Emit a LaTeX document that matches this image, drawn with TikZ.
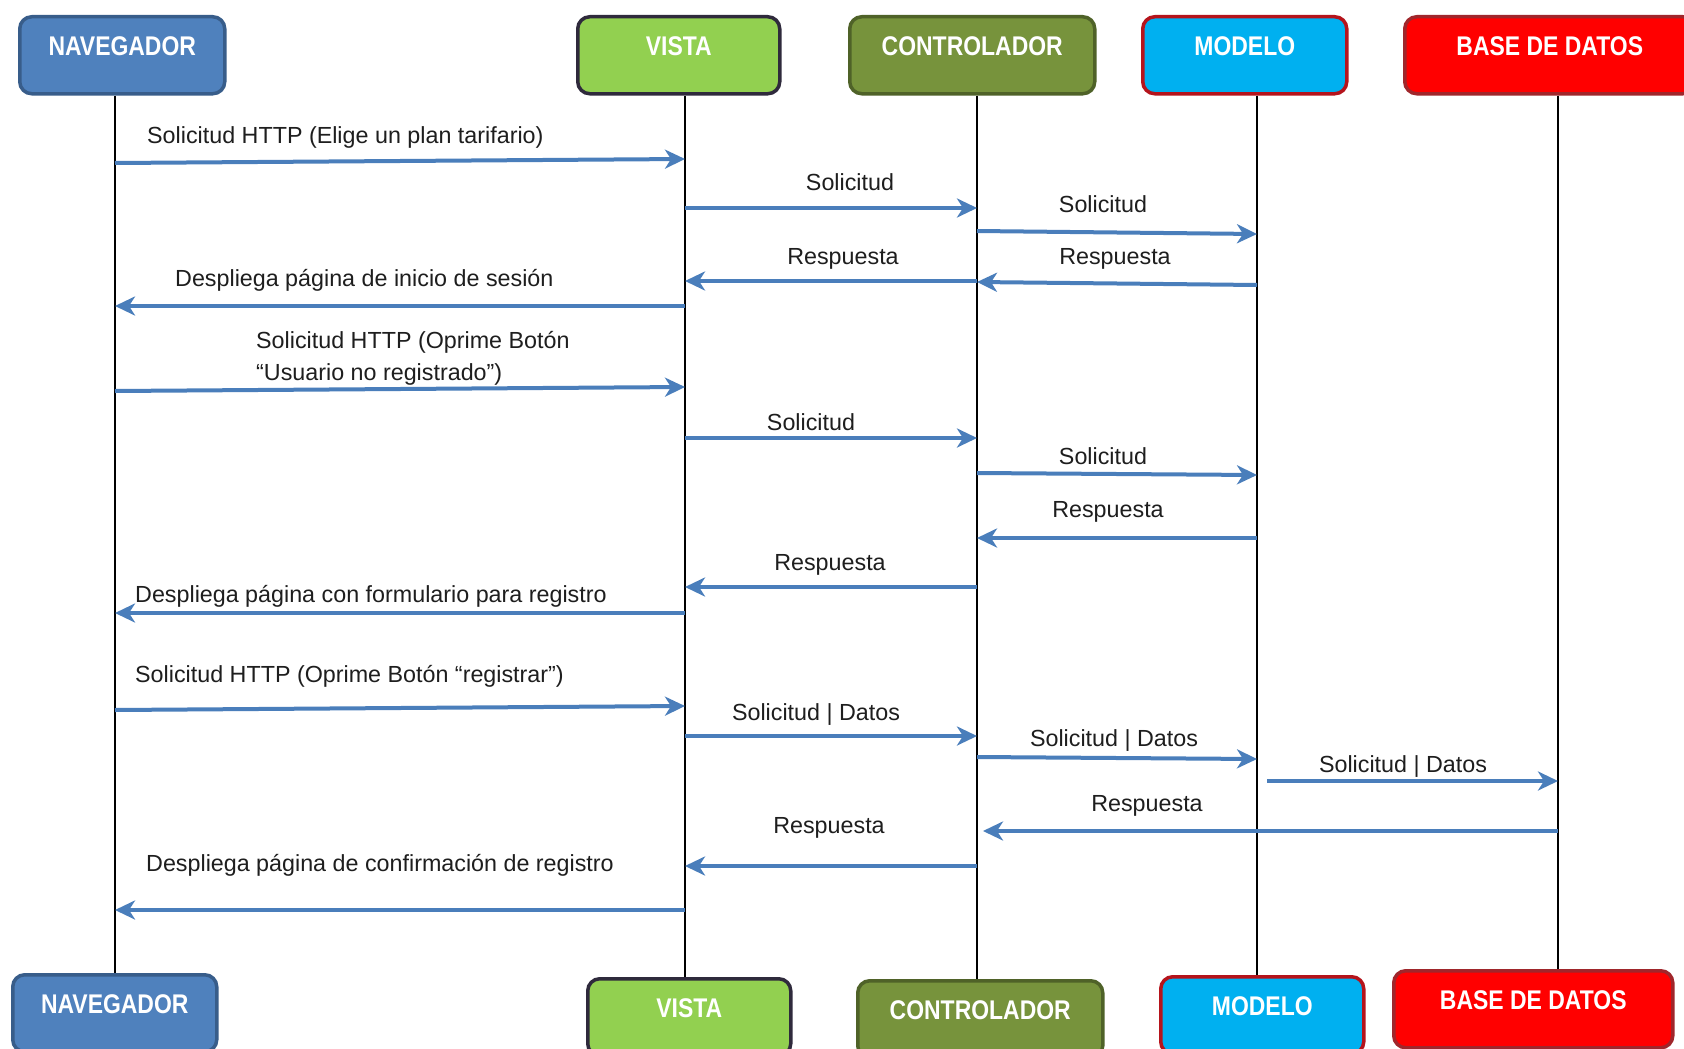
\documentclass[tikz,border=0pt]{standalone}
\usepackage{fontspec}
\setmainfont{Liberation Sans}
\newfontfamily\hdrfont[FakeStretch=0.85]{Liberation Sans}
\usetikzlibrary{arrows.meta}

\definecolor{navfill}{HTML}{4F81BD}
\definecolor{navline}{HTML}{385D8A}
\definecolor{visfill}{HTML}{92D050}
\definecolor{visline}{HTML}{2F2A3C}
\definecolor{ctrfill}{HTML}{77933C}
\definecolor{ctrline}{HTML}{4F6228}
\definecolor{modfill}{HTML}{00B0F0}
\definecolor{modline}{HTML}{B5141C}
\definecolor{bdfill}{HTML}{FF0000}
\definecolor{bdline}{HTML}{A0262B}
\definecolor{msgblue}{HTML}{4A7EBB}
\definecolor{lbltext}{HTML}{1E1E1E}

\begin{document}
\begin{tikzpicture}[x=1pt, y=-1pt,
  hdr/.style={draw, line width=3.5pt, rounded corners=12pt, anchor=north west,
    inner xsep=0pt, inner ysep=0pt, text height=39pt, text depth=38pt,
    font=\hdrfont\bfseries\fontsize{27}{27}\selectfont, text=white},
  life/.style={draw=black, line width=2.6pt},
  msg/.style={draw=msgblue, line width=4pt, -{Stealth[length=20pt,width=19pt,inset=6pt]}},
  lbl/.style={font=\fontsize{23.3}{31}\selectfont, text=lbltext, inner sep=0pt},
  lblw/.style={lbl, anchor=base west},
  lblc/.style={lbl, anchor=base}]

% page frame
\useasboundingbox (0,0) rectangle (1684,1049);
\clip (0,0) rectangle (1684,1049);
\fill[white] (0,0) rectangle (1684,1049);

% participant boxes, top row
\node[hdr, fill=navfill, draw=navline, minimum width=205pt] (navT) at (18,15) {NAVEGADOR};
\node[hdr, fill=visfill, draw=visline, minimum width=202pt] (visT) at (576,15) {VISTA};
\node[hdr, fill=ctrfill, draw=ctrline, minimum width=245pt] (ctrT) at (848,15) {CONTROLADOR};
\node[hdr, fill=modfill, draw=modline, minimum width=204pt] (modT) at (1141,15) {MODELO};
\node[hdr, fill=bdfill,  draw=bdline,  minimum width=290pt] (bdT)  at (1403,15) {BASE DE DATOS};

% participant boxes, bottom row
\node[hdr, fill=navfill, draw=navline, minimum width=204pt] (navB) at (11,973) {NAVEGADOR};
\node[hdr, fill=visfill, draw=visline, minimum width=203pt] (visB) at (586,977) {VISTA};
\node[hdr, fill=ctrfill, draw=ctrline, minimum width=245pt] (ctrB) at (856,979) {CONTROLADOR};
\node[hdr, fill=modfill, draw=modline, minimum width=203pt] (modB) at (1159,975) {MODELO};
\node[hdr, fill=bdfill,  draw=bdline,  minimum width=279pt] (bdB)  at (1392,969) {BASE DE DATOS};

% lifeline positions
\coordinate (navL) at (115,0);
\coordinate (visL) at (685,0);
\coordinate (ctrL) at (977,0);
\coordinate (modL) at (1257,0);
\coordinate (bdL)  at (1558,0);

% lifelines
\draw[life] (navL |- navT.south) -- (navL |- navB.north);
\draw[life] (visL |- visT.south) -- (visL |- visB.north);
\draw[life] (ctrL |- ctrT.south) -- (ctrL |- ctrB.north);
\draw[life] (modL |- modT.south) -- (modL |- modB.north);
\draw[life] (bdL  |- bdT.south)  -- (bdL  |- bdB.north);

% first exchange: choosing a plan
\draw[msg] (navL |- 0,163) -- (visL |- 0,159);
\node[lblw] (m1) at (147,143) {Solicitud HTTP (Elige un plan tarifario)};
\draw[msg] (visL |- 0,208) -- (ctrL |- 0,208);
\node[lblc] (m2) at (850,190) {Solicitud};
\draw[msg] (ctrL |- 0,231) -- (modL |- 0,234);
\node[lblc] (m3) at (1103,212) {Solicitud};
\draw[msg] (modL |- 0,285) -- (ctrL |- 0,282);
\node[lblc] (m4) at (1115,264) {Respuesta};
\draw[msg] (ctrL |- 0,281) -- (visL |- 0,281);
\node[lblc] (m5) at (843,264) {Respuesta};
\draw[msg] (visL |- 0,306) -- (navL |- 0,306);
\node[lblw] (m6) at (175,286) {Despliega página de inicio de sesión};

% second exchange: unregistered user
\draw[msg] (navL |- 0,391) -- (visL |- 0,387);
\node[lblw] (m7a) at (256,348) {Solicitud HTTP (Oprime Botón};
\node[lblw] (m7b) at (256,380) {“Usuario no registrado”)};
\draw[msg] (visL |- 0,438) -- (ctrL |- 0,438);
\node[lblc] (m8) at (811,430) {Solicitud};
\draw[msg] (ctrL |- 0,473) -- (modL |- 0,475);
\node[lblc] (m9) at (1103,464) {Solicitud};
\draw[msg] (modL |- 0,538) -- (ctrL |- 0,538);
\node[lblc] (m10) at (1108,517) {Respuesta};
\draw[msg] (ctrL |- 0,587) -- (visL |- 0,587);
\node[lblc] (m11) at (830,570) {Respuesta};
\draw[msg] (visL |- 0,613) -- (navL |- 0,613);
\node[lblw] (m12) at (135,602) {Despliega página con formulario para registro};

% third exchange: registration
\draw[msg] (navL |- 0,710) -- (visL |- 0,706);
\node[lblw] (m13) at (135,682) {Solicitud HTTP (Oprime Botón “registrar”)};
\draw[msg] (visL |- 0,736) -- (ctrL |- 0,736);
\node[lblc] (m14) at (816,720) {Solicitud | Datos};
\draw[msg] (ctrL |- 0,757) -- (modL |- 0,759);
\node[lblc] (m15) at (1114,746) {Solicitud | Datos};
\draw[msg] ([xshift=10pt]modL |- 0,781) -- (bdL |- 0,781);
\node[lblc] (m16) at (1403,772) {Solicitud | Datos};
\draw[msg] (bdL |- 0,831) -- ([xshift=6pt]ctrL |- 0,831);
\node[lblc] (m17) at (1147,811) {Respuesta};
\draw[msg] (ctrL |- 0,866) -- (visL |- 0,866);
\node[lblc] (m18) at (829,833) {Respuesta};
\draw[msg] (visL |- 0,910) -- (navL |- 0,910);
\node[lblw] (m19) at (146,871) {Despliega página de confirmación de registro};
\end{tikzpicture}
\end{document}
